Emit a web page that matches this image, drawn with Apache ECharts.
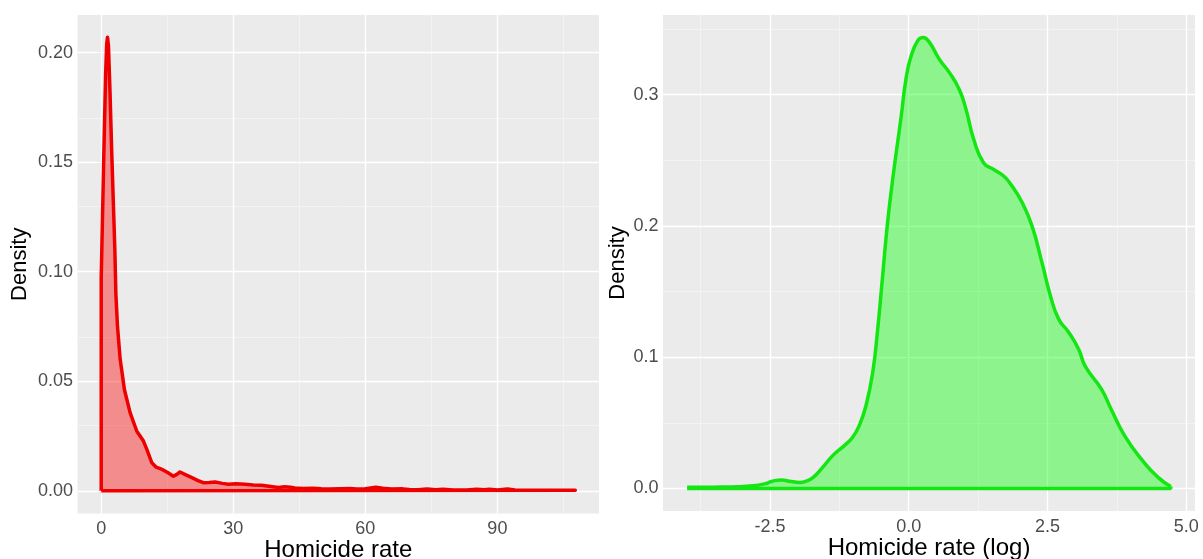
<!DOCTYPE html>
<html>
<head>
<meta charset="utf-8">
<script src="https://cdn.jsdelivr.net/npm/echarts@6/dist/echarts.min.js"></script>
<style>
  html, body { margin: 0; padding: 0; background: #ffffff; }
  #chart { width: 1203px; height: 559px; }
</style>
</head>
<body>
<div id="chart"></div>
<script>
// ---- Left panel: Homicide rate density ----
const rateX = [0, 0, 0.15, 0.6, 1.0, 1.25, 1.43, 1.65, 2.0, 2.4, 3.1, 3.33, 3.7, 4.31, 5.29, 6.58, 8.09, 9.6, 10.36, 11.5, 12.5, 13.8, 15.0, 16.4, 17.2, 17.9, 19.0, 20.6, 22.0, 23.2, 24.5, 25.9, 27.5, 28.9, 30.5, 32.7, 34.5, 36.4, 38.5, 40.2, 41.7, 43, 44, 46, 48, 50, 52, 54, 56.5, 58, 60, 62.4, 64, 66, 68.5, 70, 72, 74, 76, 77.6, 80, 83, 85.3, 87, 88.2, 90, 92.3, 94, 97, 100, 104, 107.7, 107.7, 0];
const rateY = [0, 0.097, 0.111, 0.154, 0.19, 0.204, 0.207, 0.203, 0.182, 0.154, 0.11, 0.09, 0.075, 0.06, 0.046, 0.0356, 0.0272, 0.0227, 0.0189, 0.0128, 0.0108, 0.0098, 0.0085, 0.0067, 0.0075, 0.0086, 0.0075, 0.006, 0.0047, 0.0037, 0.0038, 0.004, 0.0034, 0.003, 0.0032, 0.003, 0.0027, 0.0025, 0.002, 0.0015, 0.0019, 0.0016, 0.0013, 0.0011, 0.0012, 0.0009, 0.0008, 0.0009, 0.0011, 0.0008, 0.001, 0.0016, 0.0012, 0.0008, 0.0009, 0.0006, 0.0005, 0.0008, 0.0005, 0.0007, 0.0004, 0.0004, 0.0007, 0.0005, 0.0007, 0.0004, 0.0008, 0.0004, 0.0003, 0.0003, 0.0003, 0.0003, 0, 0];

// ---- Right panel: log homicide rate density ----
const logX = [-3.99, -3.7, -3.4, -3.1, -2.8, -2.6, -2.45, -2.29, -2.15, -1.96, -1.85, -1.72, -1.55, -1.37, -1.15, -1.01, -0.89, -0.77, -0.65, -0.56, -0.47, -0.38, -0.26, -0.14, -0.05, 0.04, 0.16, 0.26, 0.37, 0.55, 0.73, 0.91, 1.03, 1.17, 1.35, 1.53, 1.71, 1.85, 2.04, 2.22, 2.40, 2.55, 2.70, 2.88, 3.06, 3.18, 3.47, 3.65, 3.89, 4.19, 4.49, 4.72];
const logY = [0.0008, 0.0008, 0.001, 0.0012, 0.002, 0.0035, 0.0055, 0.0065, 0.0055, 0.0046, 0.0055, 0.0084, 0.016, 0.025, 0.033, 0.039, 0.048, 0.063, 0.088, 0.121, 0.162, 0.203, 0.245, 0.282, 0.312, 0.329, 0.341, 0.3435, 0.340, 0.327, 0.317, 0.304, 0.289, 0.266, 0.248, 0.243, 0.238, 0.231, 0.218, 0.200, 0.172, 0.147, 0.129, 0.119, 0.106, 0.093, 0.0756, 0.060, 0.040, 0.0223, 0.0084, 0.0015];

// ---- Tick labels / gridlines ----
const leftXTicks = [0, 30, 60, 90];
const leftXMinor = [15, 45, 75, 105];
const leftYTicks = [0, 0.05, 0.10, 0.15, 0.20];
const leftYMinor = [0.025, 0.075, 0.125, 0.175];
const rightXTicks = [-2.5, 0, 2.5, 5.0];
const rightXMinor = [-3.75, -1.25, 1.25, 3.75];
const rightYTicks = [0, 0.1, 0.2, 0.3];
const rightYMinor = [0.05, 0.15, 0.25, 0.35];

const leftXTitle = 'Homicide rate';
const rightXTitle = 'Homicide rate (log)';
const yTitle = 'Density';

const FONT = 'Liberation Sans, Arial, sans-serif';
const zip = (xs, ys) => xs.map((x, i) => [x, ys[i]]);

function gridLines(xMajor, xMinor, yMajor, yMinor) {
  const major = { color: '#ffffff', width: 1.4, type: 'solid', opacity: 1 };
  const minor = { color: '#f6f6f6', width: 0.7, type: 'solid', opacity: 1 };
  const d = [];
  xMinor.forEach(v => d.push({ xAxis: v, lineStyle: minor }));
  yMinor.forEach(v => d.push({ yAxis: v, lineStyle: minor }));
  xMajor.forEach(v => d.push({ xAxis: v, lineStyle: major }));
  yMajor.forEach(v => d.push({ yAxis: v, lineStyle: major }));
  return d;
}

function xAxisCfg(idx, min, max, ticks, title, fmt) {
  return {
    type: 'value', gridIndex: idx, min: min, max: max,
    axisLine: { show: false },
    axisTick: { show: true, customValues: ticks, length: 4, lineStyle: { color: '#333333', width: 1.1 } },
    axisLabel: { show: true, customValues: ticks, margin: 7, color: '#4D4D4D', fontSize: 18, fontFamily: FONT, formatter: fmt, hideOverlap: false },
    splitLine: { show: false },
    name: title, nameLocation: 'middle', nameGap: 25, nameMoveOverlap: false,
    nameTextStyle: { color: '#000000', fontSize: 24, fontFamily: FONT }
  };
}
function yAxisCfg(idx, min, max, ticks, gap, fmt) {
  return {
    type: 'value', gridIndex: idx, min: min, max: max,
    axisLine: { show: false },
    axisTick: { show: true, customValues: ticks, length: 4, lineStyle: { color: '#333333', width: 1.1 } },
    axisLabel: { show: true, customValues: ticks, margin: 4.5, color: '#4D4D4D', fontSize: 18, fontFamily: FONT, formatter: fmt },
    splitLine: { show: false },
    name: yTitle, nameLocation: 'middle', nameGap: gap, nameRotate: 90, nameMoveOverlap: false,
    nameTextStyle: { color: '#000000', fontSize: 22, fontFamily: FONT }
  };
}

const chart = echarts.init(document.getElementById('chart'), null, { renderer: 'canvas' });
chart.setOption({
  animation: false,
  backgroundColor: '#ffffff',
  grid: [
    { left: 77.5, right: 604, top: 15, bottom: 45.5, show: true, backgroundColor: '#EBEBEB', borderWidth: 0, containLabel: false, outerBoundsMode: 'none' },
    { left: 663, right: 8, top: 15, bottom: 48, show: true, backgroundColor: '#EBEBEB', borderWidth: 0, containLabel: false, outerBoundsMode: 'none' }
  ],
  xAxis: [
    xAxisCfg(0, -5.385, 113.085, leftXTicks, leftXTitle, v => String(Math.round(v))),
    xAxisCfg(1, -4.4255, 5.1555, rightXTicks, rightXTitle, v => v.toFixed(1))
  ],
  yAxis: [
    yAxisCfg(0, -0.01034, 0.21714, leftYTicks, 47, v => v.toFixed(2)),
    yAxisCfg(1, -0.0172, 0.3607, rightYTicks, 34, v => v.toFixed(1))
  ],
  series: [
    {
      type: 'line', xAxisIndex: 0, yAxisIndex: 0, data: [], z: 1, silent: true,
      markLine: { z: 1, silent: true, symbol: ['none', 'none'], label: { show: false }, animation: false,
        data: gridLines(leftXTicks, leftXMinor, leftYTicks, leftYMinor) }
    },
    {
      type: 'line', xAxisIndex: 1, yAxisIndex: 1, data: [], z: 1, silent: true,
      markLine: { z: 1, silent: true, symbol: ['none', 'none'], label: { show: false }, animation: false,
        data: gridLines(rightXTicks, rightXMinor, rightYTicks, rightYMinor) }
    },
    {
      name: 'rate', type: 'line', xAxisIndex: 0, yAxisIndex: 0, z: 3,
      data: zip(rateX, rateY), showSymbol: false, smooth: false,
      lineStyle: { color: '#EE0000', width: 3.5, join: 'round' },
      areaStyle: { color: '#FF0000', opacity: 0.4 }
    },
    {
      name: 'log rate', type: 'line', xAxisIndex: 1, yAxisIndex: 1, z: 3,
      data: zip(logX, logY), showSymbol: false, smooth: 0.5,
      lineStyle: { color: '#14E614', width: 3.5 },
      areaStyle: { color: '#00FF00', opacity: 0.4 }
    },
    {
      name: 'log baseline', type: 'line', xAxisIndex: 1, yAxisIndex: 1, z: 4,
      data: [[logX[0], 0], [logX[logX.length - 1], 0], [logX[logX.length - 1], logY[logY.length - 1]]],
      showSymbol: false, lineStyle: { color: '#14E614', width: 3.5 }
    }
  ]
});
</script>
</body>
</html>
